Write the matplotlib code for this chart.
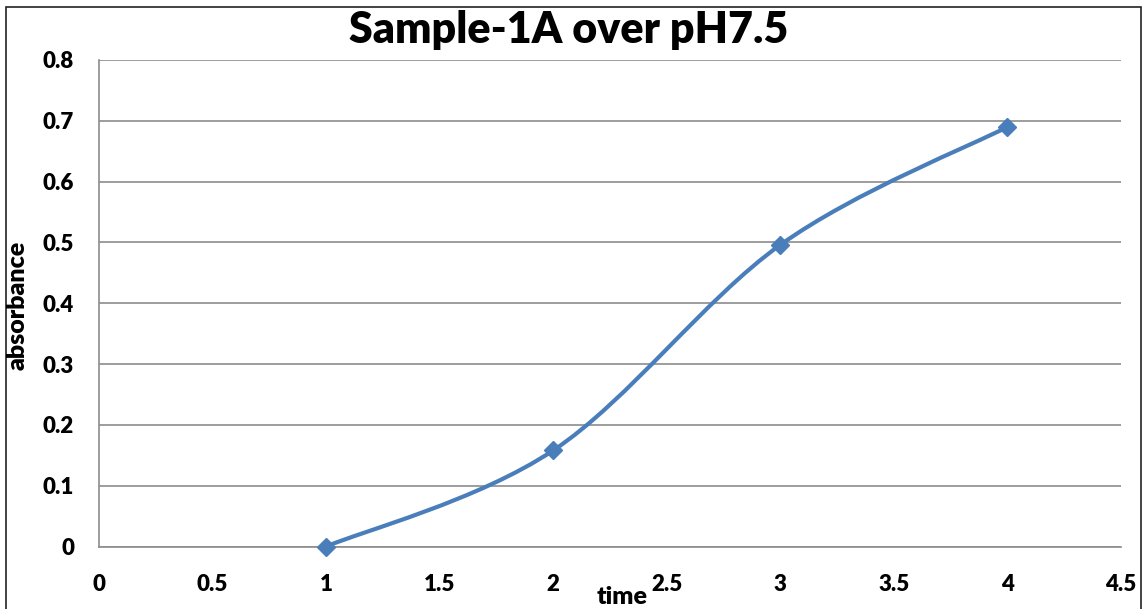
import numpy as np
import matplotlib.pyplot as plt
from matplotlib.path import Path
from matplotlib.patches import PathPatch, Rectangle

plt.rcParams['font.family'] = ['Lato', 'DejaVu Sans']

time = [1, 2, 3, 4]
absorbance = [0.0, 0.158, 0.496, 0.69]
x_ticks = [0, 0.5, 1, 1.5, 2, 2.5, 3, 3.5, 4, 4.5]
x_tick_labels = ['0', '0.5', '1', '1.5', '2', '2.5', '3', '3.5', '4', '4.5']
y_ticks = [0, 0.1, 0.2, 0.3, 0.4, 0.5, 0.6, 0.7, 0.8]
y_tick_labels = ['0', '0.1', '0.2', '0.3', '0.4', '0.5', '0.6', '0.7', '0.8']

blue = '#4a7ebb'

fig = plt.figure(figsize=(11.43, 6.09), dpi=100)
ax = fig.add_axes([99 / 1143, 1 - 546.5 / 609, (1121 - 99) / 1143, (546.5 - 60) / 609])

# outer chart frame (bottom edge cropped off in the original)
fig.patches.append(Rectangle((6 / 1143, -0.05), (1141 - 6) / 1143, 1.05 - 7 / 609,
                             transform=fig.transFigure, fill=False,
                             edgecolor='#222222', linewidth=1.2))

# smoothed line like Excel: Catmull-Rom style bezier through the points
pts = np.column_stack([time, absorbance])
verts = [pts[0]]
codes = [Path.MOVETO]
for i in range(len(pts) - 1):
    p0 = pts[max(i - 1, 0)]
    p1 = pts[i]
    p2 = pts[i + 1]
    p3 = pts[min(i + 2, len(pts) - 1)]
    c1 = p1 + (p2 - p0) / 6
    c2 = p2 - (p3 - p1) / 6
    verts += [c1, c2, p2]
    codes += [Path.CURVE4] * 3
ax.add_patch(PathPatch(Path(verts, codes), fill=False, edgecolor=blue,
                       linewidth=3, capstyle='round', zorder=3))
ax.plot(time, absorbance, linestyle='none', marker='D', markersize=9,
        color=blue, zorder=4, clip_on=False)

ax.set_xlim(0, 4.5)
ax.set_ylim(0, 0.8)
ax.set_xticks(x_ticks)
ax.set_xticklabels(x_tick_labels)
ax.set_yticks(y_ticks)
ax.set_yticklabels(y_tick_labels)
ax.tick_params(length=0, labelsize=16)
ax.tick_params(axis='y', pad=18)
ax.tick_params(axis='x', pad=20)
for lab in ax.get_xticklabels() + ax.get_yticklabels():
    lab.set_fontweight('heavy')
ax.grid(axis='y', color='#8c8c8c', linewidth=1.2)
ax.set_axisbelow(True)
for s in ['top', 'right']:
    ax.spines[s].set_visible(False)
ax.spines['left'].set_color('#8c8c8c')
ax.spines['bottom'].set_color('#8c8c8c')
ax.spines['left'].set_linewidth(1.2)
ax.spines['bottom'].set_linewidth(1.2)

fig.text(569 / 1143, 1 - 43 / 609, 'Sample-1A over pH7.5', ha='center', va='baseline',
         fontsize=31, fontweight='heavy')
fig.text(18 / 1143, 1 - 305 / 609, 'absorbance', ha='center', va='center',
         rotation=90, fontsize=18, fontweight='heavy')
fig.text(622 / 1143, 1 / 609, 'time', ha='center', va='bottom',
         fontsize=18, fontweight='heavy')

fig.savefig('out.png', dpi=100)
